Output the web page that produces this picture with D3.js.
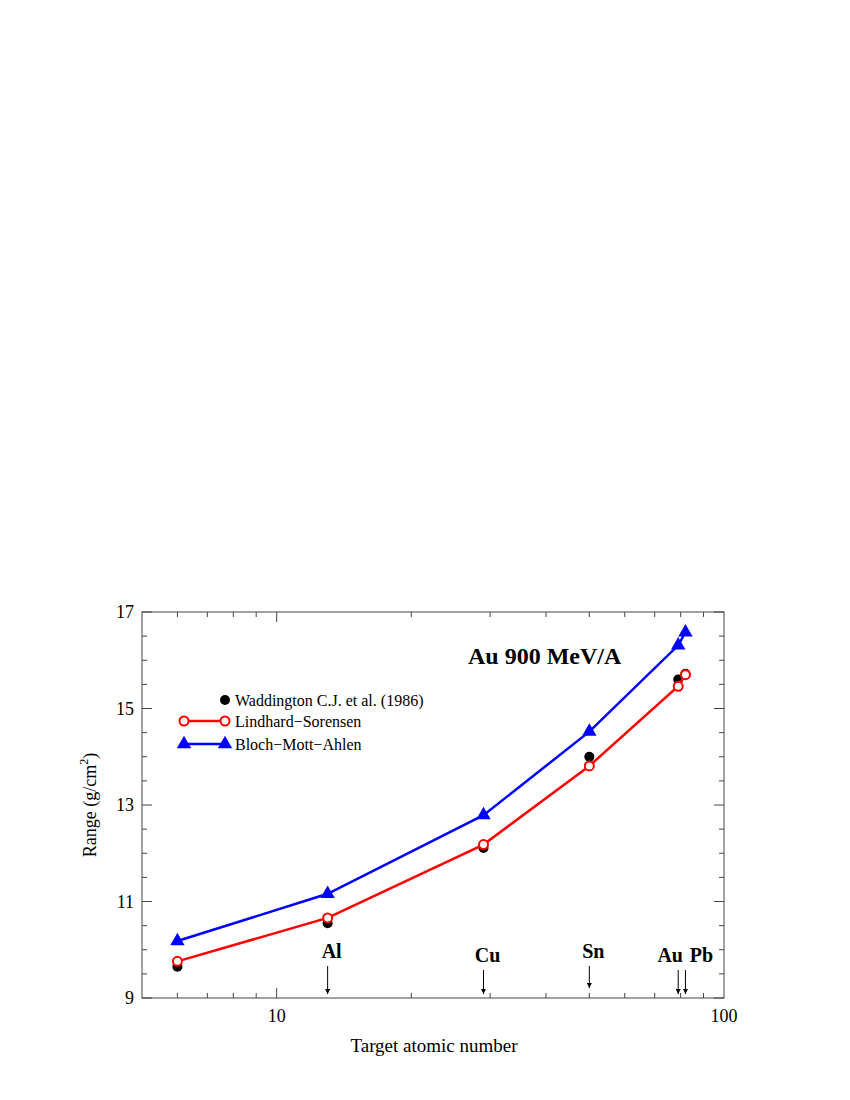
<!DOCTYPE html>
<html><head><meta charset="utf-8">
<script src="https://cdn.jsdelivr.net/npm/d3@7"></script>
<style>body{margin:0;background:#fff}text{font-family:"Liberation Serif","DejaVu Serif",serif}</style>
</head><body><svg id="c" width="850" height="1100"></svg>
<script>
// data
var Z = [6, 13, 29, 50, 79, 82];
var waddington = [9.65, 10.55, 12.11, 14.0, 15.6, 15.72];
var lindhard = [9.76, 10.66, 12.18, 13.81, 15.46, 15.70];
var bloch = [10.18, 11.16, 12.79, 14.52, 16.31, 16.58];
var elements = [["Al", 13], ["Cu", 29], ["Sn", 50], ["Au", 79], ["Pb", 82]];
var yTicks = [9, 11, 13, 15, 17];

var svg = d3.select("#c");
var L = 142, R = 724, T = 612, B = 998;
var x = d3.scaleLog().domain([5, 100]).range([L, R]);
var y = d3.scaleLinear().domain([9, 17]).range([B, T]);

var ax = "#444";
svg.append("rect").attr("x", L).attr("y", T).attr("width", R - L).attr("height", B - T)
  .attr("fill", "none").attr("stroke", ax);

var minorX = [6, 7, 8, 9, 20, 30, 40, 50, 60, 70, 80, 90];
minorX.forEach(function(v) {
  svg.append("line").attr("x1", x(v)).attr("x2", x(v)).attr("y1", B).attr("y2", B - 5).attr("stroke", ax);
  svg.append("line").attr("x1", x(v)).attr("x2", x(v)).attr("y1", T).attr("y2", T + 5).attr("stroke", ax);
});
[10].forEach(function(v) {
  svg.append("line").attr("x1", x(v)).attr("x2", x(v)).attr("y1", B).attr("y2", B - 10).attr("stroke", ax);
  svg.append("line").attr("x1", x(v)).attr("x2", x(v)).attr("y1", T).attr("y2", T + 10).attr("stroke", ax);
});
[10, 100].forEach(function(v) {
  svg.append("text").attr("x", x(v)).attr("y", B + 24).attr("text-anchor", "middle")
    .attr("font-size", 18).text(v);
});
d3.range(9, 17.01, 0.5).forEach(function(v) {
  var major = yTicks.indexOf(v) >= 0, len = major ? 10 : 5;
  svg.append("line").attr("x1", L).attr("x2", L + len).attr("y1", y(v)).attr("y2", y(v)).attr("stroke", ax);
  svg.append("line").attr("x1", R).attr("x2", R - len).attr("y1", y(v)).attr("y2", y(v)).attr("stroke", ax);
});
yTicks.forEach(function(v) {
  svg.append("text").attr("x", L - 8).attr("y", y(v) + 6).attr("text-anchor", "end")
    .attr("font-size", 18).text(v);
});

svg.append("text").attr("x", (L + R) / 2 + 1).attr("y", 1052).attr("text-anchor", "middle")
  .attr("font-size", 19).text("Target atomic number");
var yl = svg.append("text").attr("transform", "translate(96," + ((T + B) / 2) + ") rotate(-90)")
  .attr("text-anchor", "middle").attr("font-size", 18);
yl.append("tspan").text("Range (g/cm");
yl.append("tspan").attr("font-size", 12).attr("dy", -8).text("2");
yl.append("tspan").attr("dy", 8).text(")");

svg.append("text").attr("x", 468).attr("y", 664).attr("font-size", 24).attr("font-weight", "bold")
  .text("Au 900 MeV/A");

// element markers
var defs = svg.append("defs");
defs.append("marker").attr("id", "ah").attr("viewBox", "0 0 10 10").attr("refX", 10).attr("refY", 5)
  .attr("markerWidth", 5).attr("markerHeight", 5).attr("orient", "auto")
  .append("path").attr("d", "M0,0L10,5L0,10z").attr("fill", "#000");
var labY = {Al: 958, Cu: 962, Sn: 958, Au: 962, Pb: 962};
elements.forEach(function(e) {
  var ex = x(e[1]);
  svg.append("line").attr("x1", ex).attr("x2", ex).attr("y1", labY[e[0]] + 8).attr("y2", e[0] == "Sn" ? 988 : 994)
    .attr("stroke", "#000").attr("stroke-width", 1).attr("marker-end", "url(#ah)");
  var tx = e[0] == "Au" ? ex - 8 : e[0] == "Pb" ? ex + 16 : ex + 4;
  svg.append("text").attr("x", tx).attr("y", labY[e[0]]).attr("text-anchor", "middle")
    .attr("font-size", 20).attr("font-weight", "bold").text(e[0]);
});

var line = d3.line().x(function(d) { return x(d[0]); }).y(function(d) { return y(d[1]); });
function pts(v) { return Z.map(function(z, i) { return [z, v[i]]; }); }

svg.selectAll(".w").data(pts(waddington)).enter().append("circle")
  .attr("cx", function(d) { return x(d[0]); }).attr("cy", function(d) { return y(d[1]); })
  .attr("r", 5).attr("fill", "#000");

svg.append("path").attr("d", line(pts(bloch))).attr("fill", "none").attr("stroke", "#0000ff").attr("stroke-width", 2.5);
var tri = d3.symbol().type(d3.symbolTriangle).size(90);
svg.selectAll(".b").data(pts(bloch)).enter().append("path").attr("d", tri)
  .attr("transform", function(d) { return "translate(" + x(d[0]) + "," + y(d[1]) + ")"; }).attr("fill", "#0000ff");

svg.append("path").attr("d", line(pts(lindhard))).attr("fill", "none").attr("stroke", "#ff0000").attr("stroke-width", 2.5);
svg.selectAll(".l").data(pts(lindhard)).enter().append("circle")
  .attr("cx", function(d) { return x(d[0]); }).attr("cy", function(d) { return y(d[1]); })
  .attr("r", 4.5).attr("fill", "#fff").attr("stroke", "#ff0000").attr("stroke-width", 2);

// legend
var lg = svg.append("g");
lg.append("circle").attr("cx", 225).attr("cy", 700).attr("r", 5).attr("fill", "#000");
lg.append("text").attr("x", 235).attr("y", 706).attr("font-size", 16).text("Waddington C.J. et al. (1986)");
lg.append("line").attr("x1", 184).attr("x2", 225).attr("y1", 721).attr("y2", 721).attr("stroke", "#ff0000").attr("stroke-width", 2.5);
[184, 225].forEach(function(cx) {
  lg.append("circle").attr("cx", cx).attr("cy", 721).attr("r", 4.5).attr("fill", "#fff").attr("stroke", "#ff0000").attr("stroke-width", 2);
});
lg.append("text").attr("x", 235).attr("y", 727).attr("font-size", 16).text("Lindhard\u2212Sorensen");
lg.append("line").attr("x1", 184).attr("x2", 225).attr("y1", 744).attr("y2", 744).attr("stroke", "#0000ff").attr("stroke-width", 2.5);
[184, 225].forEach(function(cx) {
  lg.append("path").attr("d", tri).attr("transform", "translate(" + cx + ",744)").attr("fill", "#0000ff");
});
lg.append("text").attr("x", 235).attr("y", 750).attr("font-size", 16).text("Bloch\u2212Mott\u2212Ahlen");
</script></body></html>
